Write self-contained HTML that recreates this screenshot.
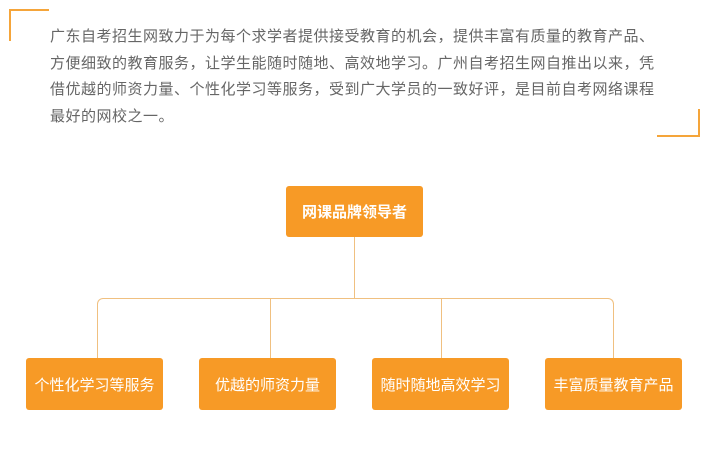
<!DOCTYPE html>
<html><head><meta charset="utf-8"><style>
body{margin:0;width:709px;height:450px;background:#fff;position:relative;overflow:hidden;font-family:"Liberation Sans","Noto Sans CJK SC",sans-serif}
.p{position:absolute;left:50px;top:24px;font-size:15px;line-height:26.7px;color:#666;white-space:nowrap;letter-spacing:0.5px}
.b{position:absolute;background:#f79a26;color:#fff;border-radius:3px;display:flex;align-items:center;justify-content:center;font-size:15px}
.l{position:absolute;background:#f0c080}
</style></head><body>
<div style="position:absolute;left:9px;top:9px;width:40px;height:2px;background:#f5a53a"></div>
<div style="position:absolute;left:9px;top:9px;width:2px;height:32px;background:#f5a53a"></div>
<div style="position:absolute;left:657px;top:135px;width:43px;height:2px;background:#f5a53a"></div>
<div style="position:absolute;left:698px;top:109px;width:2px;height:28px;background:#f5a53a"></div>
<div class="p">广东自考招生网致力于为每个求学者提供接受教育的机会，提供丰富有质量的教育产品、<br>方便细致的教育服务，让学生能随时随地、高效地学习。广州自考招生网自推出以来，凭<br>借优越的师资力量、个性化学习等服务，受到广大学员的一致好评，是目前自考网络课程<br>最好的网校之一。</div>
<div class="l" style="left:354px;top:237px;width:1px;height:62px"></div>
<div style="position:absolute;left:97px;top:298px;width:517px;height:60px;border:1px solid #f0c080;border-bottom:none;border-radius:6px 6px 0 0;box-sizing:border-box"></div>
<div class="l" style="left:270px;top:298px;width:1px;height:60px"></div>
<div class="l" style="left:441px;top:298px;width:1px;height:60px"></div>
<div class="b" style="left:286px;top:186px;width:137px;height:51px;font-weight:bold">网课品牌领导者</div>
<div class="b" style="left:26px;top:358px;width:137px;height:52px">个性化学习等服务</div>
<div class="b" style="left:199px;top:358px;width:137px;height:52px">优越的师资力量</div>
<div class="b" style="left:372px;top:358px;width:137px;height:52px">随时随地高效学习</div>
<div class="b" style="left:545px;top:358px;width:137px;height:52px">丰富质量教育产品</div>
</body></html>
